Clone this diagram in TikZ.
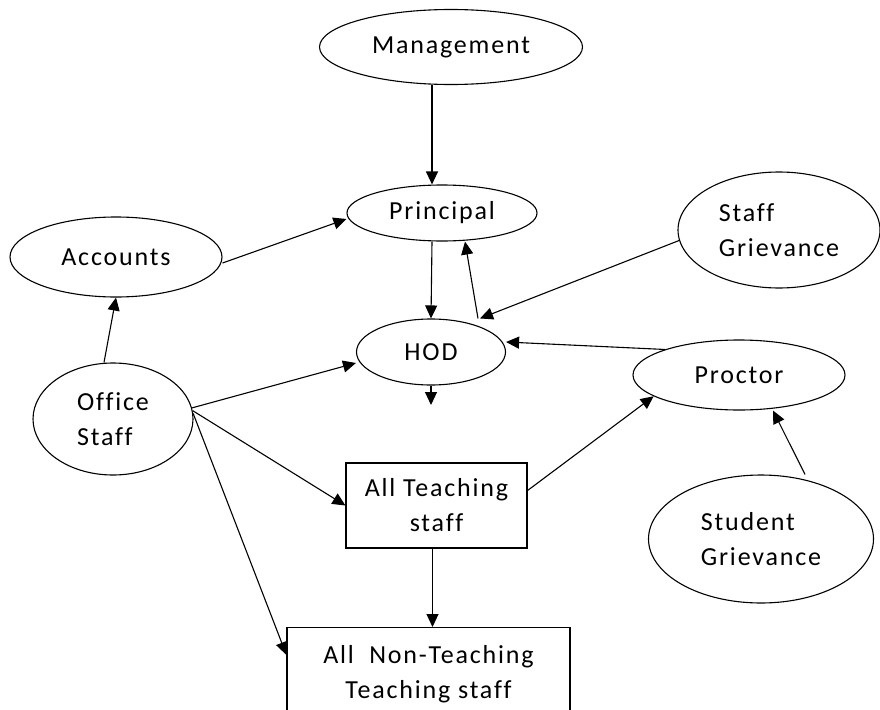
\documentclass[tikz,border=0pt]{standalone}
\usepackage{fontspec}
\setmainfont{Carlito}[LetterSpace=7,Ligatures=NoCommon]
\usetikzlibrary{shapes.geometric,arrows.meta}
\begin{document}
\begin{tikzpicture}
  [x=1pt,y=-1pt,line width=1.1pt,
   every node/.style={draw,inner sep=0pt,align=left,font=\fontsize{26}{35}\selectfont},
   oval/.style={ellipse},
   box/.style={rectangle,align=center},
   arr/.style={-{Triangle[length=13pt,width=12pt]}}]
  \useasboundingbox (0,0) rectangle (880,709);
  \node[oval,minimum width=263,minimum height=75] (mgmt) at (451,47) {Management};
  \node[oval,minimum width=190,minimum height=56] (principal) at (442,213) {Principal};
  \node[oval,minimum width=212,minimum height=80] (accounts) at (116,257) {Accounts};
  \node[oval,minimum width=202,minimum height=116] (sg) at (779,230) {Staff\\Grievance};
  \node[oval,minimum width=149,minimum height=66] (hod) at (431,352) {HOD};
  \node[oval,minimum width=212,minimum height=70] (proctor) at (739,375) {Proctor};
  \node[oval,minimum width=160,minimum height=112] (office) at (113,419) {Office\\Staff};
  \node[box,minimum width=181,minimum height=85] (allteach) at (436.5,505.5) {All Teaching\\staff};
  \node[oval,minimum width=225,minimum height=128] (stgr) at (761,539) {Student\\Grievance};
  \node[box,anchor=north,minimum width=283,inner ysep=18pt] (nonteach) at (428.5,627) {All~~Non-Teaching\\Teaching staff};
  \coordinate (hodout) at (431,405);

  \draw[arr] ([xshift=-19pt]mgmt.south) -- ([xshift=-10pt]principal.north);
  \draw[arr] ([xshift=-10pt]principal.south) -- (hod.north);
  \draw[arr] ([xshift=47pt]hod.north) -- ([xshift=23pt]principal.south);
  \draw[arr] (sg.186) -- ([xshift=49pt]hod.north);
  \draw[arr] (proctor.161) -- ([yshift=10pt]hod.east);
  \draw[arr] ([yshift=-6pt]accounts.east) -- ([yshift=-6pt]principal.west);
  \draw[arr] ([xshift=-9pt]office.north) -- (accounts.south);
  \draw[arr] (office.8) -- ([yshift=-11pt]hod.west);
  \draw[arr] (office.6) -- (allteach.west);
  \draw[arr] (office.4) -- ([yshift=-28pt]nonteach.north west);
  \draw[arr] ([yshift=15pt]allteach.east) -- (proctor.194);
  \draw[arr] ([xshift=44pt]stgr.north) -- ([xshift=34pt]proctor.south);
  \draw[arr] ([xshift=-4pt]allteach.south) -- ([xshift=4pt]nonteach.north);
  \draw[arr] (hod.south) -- (hodout);
\end{tikzpicture}
\end{document}
